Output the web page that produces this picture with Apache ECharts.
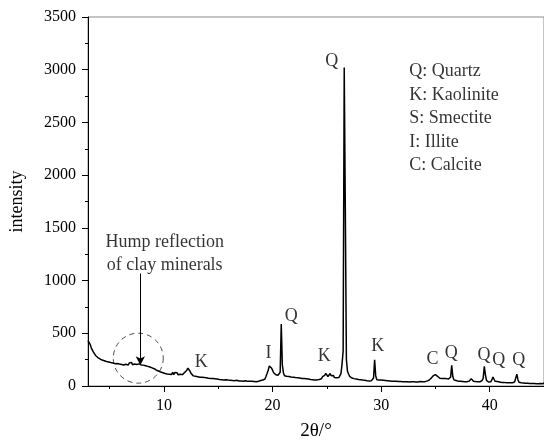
<!DOCTYPE html>
<html>
<head>
<meta charset="utf-8">
<script src="https://cdn.jsdelivr.net/npm/echarts@6/dist/echarts.min.js"></script>
<style>
html,body{margin:0;padding:0;background:#fff;}
#chart{width:544px;height:446px;}
</style>
</head>
<body>
<div id="chart"></div>
<script>
// 2θ sampling of the pattern
var twoThetaStart = 3.0;
var twoThetaStep = 0.1;
// intensity, one row per degree (3.0 ... 45.0)
var intensity = [
430,412,395,362,350,322,310,290,292,270,
272,258,262,246,258,240,252,232,246,228,
244,222,236,218,234,212,230,214,226,208,
218,204,222,200,216,206,224,198,218,206,
224,202,220,208,226,204,222,210,228,200,
214,198,208,192,204,186,198,180,190,172,
182,164,170,150,160,142,150,132,144,126,
136,118,130,114,132,112,128,110,130,108,
128,110,126,106,124,112,128,108,124,128,
136,150,170,152,140,118,112,96,110,92,
104,88,100,84,98,82,94,80,92,78,
90,74,86,72,84,70,82,68,80,66,
78,62,76,60,74,58,72,60,70,56,
68,54,70,52,66,50,64,54,62,48,
62,48,60,46,58,50,62,44,58,46,
56,44,54,42,58,40,54,44,60,52,
62,56,70,66,92,120,150,190,200,170,
150,126,124,106,120,102,118,130,588,200,
124,98,114,92,108,90,104,86,100,84,
98,80,94,78,92,76,88,72,86,70,
84,68,80,66,78,62,76,60,74,58,
72,58,74,62,80,68,88,76,100,120,
112,90,106,118,98,86,100,80,94,78,
92,80,98,118,210,330,3020,1680,250,140,
114,92,94,76,90,70,86,66,82,62,
80,60,76,56,72,54,70,50,68,48,
66,50,64,76,248,96,60,46,58,42,
56,40,54,38,52,36,50,34,48,32,
46,30,46,30,44,30,42,28,42,28,
40,28,40,26,40,28,38,26,40,28,
40,26,38,26,38,28,42,30,40,28,
40,38,46,40,54,58,74,84,98,100,
108,94,92,76,74,62,72,56,70,54,
70,68,66,62,84,195,90,58,62,52,
58,46,56,44,54,42,52,40,50,40,
52,46,62,68,60,46,58,42,56,40,
54,40,52,52,74,186,110,54,52,38,
54,40,60,85,64,44,50,42,48,38,
46,34,46,34,44,32,42,32,42,30,
40,30,42,40,58,113,60,36,40,30,
38,28,38,26,36,26,36,24,34,24,
34,24,34,22,32,22,32,24,32,22,
30
];

// axis ticks
var xMajorTicks = [10, 20, 30, 40];
var xMinorTicks = [5, 15, 25, 35, 45];
var yTickInterval = 500;

// peak letters: [2θ, intensity, text]
var peakLabelX = [25.45, 21.72, 19.63, 13.42, 24.75, 29.68, 34.72, 36.46, 39.47, 40.84, 42.67];
var peakLabelY = [3080, 661, 312, 227, 283, 378, 255, 312, 293, 246, 246];
var peakLabelText = ['Q', 'Q', 'I', 'K', 'K', 'K', 'C', 'Q', 'Q', 'Q', 'Q'];

// legend key text
var keyLines = ['Q: Quartz', 'K: Kaolinite', 'S: Smectite', 'I: Illite', 'C: Calcite'];
var keyAnchor = [32.59, 3092];

// hump annotation
var humpText = ['Hump reflection', 'of clay minerals'];
var humpTextAnchor = [10.06, 1256];
var humpCircle = [7.63, 264];
var humpArrowX = 7.82;
var humpArrowFrom = 1067;
var humpArrowTo = 198;

var lineData = intensity.map(function (v, i) {
  return [+(twoThetaStart + i * twoThetaStep).toFixed(2), v];
});

var serif = '"Liberation Serif", "Times New Roman", serif';

var peakData = peakLabelX.map(function (x, i) {
  return { value: [x, peakLabelY[i]], name: peakLabelText[i] };
});

var chart = echarts.init(document.getElementById('chart'), null, { renderer: 'canvas' });
chart.setOption({
  animation: false,
  backgroundColor: '#fff',
  grid: {
    left: 88, top: 17, width: 460, height: 371,
    show: true, borderColor: '#8a8a8a', borderWidth: 1, backgroundColor: 'transparent'
  },
  xAxis: [{
    type: 'value', min: 3, max: 45,
    name: '2θ/°', nameLocation: 'middle', nameGap: 36,
    nameTextStyle: { fontFamily: serif, fontSize: 19, color: '#000' },
    axisLine: { show: true, lineStyle: { color: '#000', width: 1 } },
    axisTick: { show: true, customValues: xMajorTicks, length: 6, lineStyle: { color: '#000' } },
    axisLabel: { show: true, customValues: xMajorTicks, margin: 12, fontFamily: serif, fontSize: 16, color: '#000' },
    splitLine: { show: false }
  }, {
    type: 'value', min: 3, max: 45, position: 'bottom',
    axisLine: { show: false },
    axisTick: { show: true, customValues: xMinorTicks, length: 3, lineStyle: { color: '#000' } },
    axisLabel: { show: false },
    splitLine: { show: false }
  }],
  yAxis: {
    type: 'value', min: 0, max: 3500, interval: yTickInterval,
    name: 'intensity', nameLocation: 'middle', nameGap: 62,
    nameTextStyle: { fontFamily: serif, fontSize: 18, color: '#000' },
    axisLine: { show: true, lineStyle: { color: '#000', width: 1 } },
    axisTick: { show: true, length: 6, lineStyle: { color: '#000' } },
    minorTick: { show: true, splitNumber: 2, length: 3, lineStyle: { color: '#000' } },
    axisLabel: {
      margin: 12, fontFamily: serif, fontSize: 16, color: '#000',
      formatter: function (v) { return String(v); }
    },
    splitLine: { show: false }
  },
  series: [{
    type: 'line',
    data: lineData,
    showSymbol: false,
    silent: true,
    sampling: 'none',
    lineStyle: { color: '#000', width: 1.5 },
    markLine: {
      silent: true,
      symbol: ['none', 'arrow'],
      symbolSize: [7, 9],
      label: { show: false },
      lineStyle: { color: '#000', width: 1, type: 'solid' },
      data: [[{ coord: [humpArrowX, humpArrowFrom] }, { coord: [humpArrowX, humpArrowTo] }]]
    }
  }, {
    type: 'scatter',
    silent: true,
    symbol: 'circle',
    symbolSize: 50,
    itemStyle: { color: 'transparent', borderColor: '#222', borderWidth: 1, borderType: [5, 4] },
    data: [humpCircle]
  }, {
    type: 'scatter',
    silent: true,
    symbolSize: 0,
    data: peakData,
    label: {
      show: true, position: 'inside', formatter: '{b}',
      fontFamily: serif, fontSize: 18, color: '#000'
    }
  }, {
    type: 'scatter',
    silent: true,
    symbolSize: 0,
    data: [{ value: keyAnchor, name: keyLines.join('\n') }],
    label: {
      show: true, position: [0, 0], align: 'left', verticalAlign: 'top',
      formatter: '{b}', lineHeight: 23.5,
      fontFamily: serif, fontSize: 18, color: '#000'
    }
  }, {
    type: 'scatter',
    silent: true,
    symbolSize: 0,
    data: [{ value: humpTextAnchor, name: humpText.join('\n') }],
    label: {
      show: true, position: 'inside', align: 'center', verticalAlign: 'middle',
      formatter: '{b}', lineHeight: 23.5,
      fontFamily: serif, fontSize: 18, color: '#000'
    }
  }]
});
</script>
</body>
</html>
